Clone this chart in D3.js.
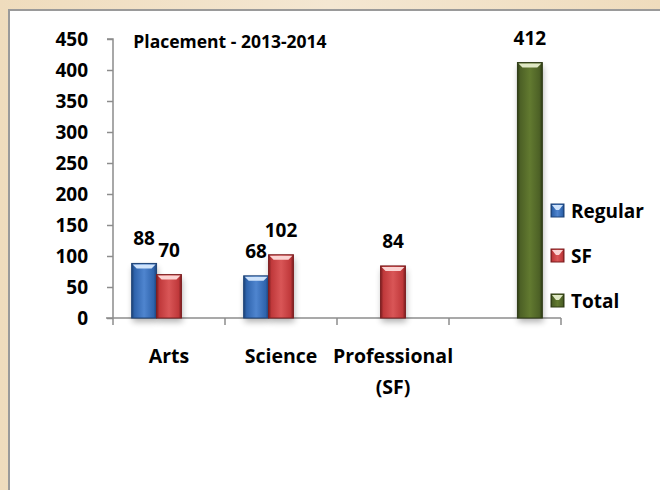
<!DOCTYPE html>
<html><head><meta charset="utf-8">
<script src="https://cdn.jsdelivr.net/npm/d3@7"></script>
<style>
html,body{margin:0;padding:0;background:#fff;}
svg{display:block;}
text{font-family:"Open Sans",Lato,sans-serif;font-weight:bold;fill:#000;}
</style></head>
<body>
<svg id="c" width="660" height="490"></svg>
<script>
const title = "Placement - 2013-2014";
const categories = ["Arts", "Science", "Professional (SF)", ""];
const seriesNames = ["Regular", "SF", "Total"];
const regular = [88, 68, null, null];
const sf = [70, 102, 84, null];
const total = [null, null, null, 412];
const yTicks = [0, 50, 100, 150, 200, 250, 300, 350, 400, 450];

const seriesData = [regular, sf, total];
const colors = [
  {base:"#2f64ad", light:"#4f85cf", dark:"#1d4378", hi:"#cfe3fb"},
  {base:"#c0393b", light:"#d95657", dark:"#7d1f21", hi:"#fbd3d2"},
  {base:"#4d6126", light:"#627a30", dark:"#2e3b15", hi:"#dfe8c4"}
];
const FONT = '"Open Sans",Lato,sans-serif';

const svg = d3.select("#c");
const defs = svg.append("defs");

const bg = defs.append("linearGradient").attr("id","bgGrad").attr("x1","0").attr("x2","1").attr("y1","0").attr("y2","0");
bg.append("stop").attr("offset","0").attr("stop-color","#efdcbd");
bg.append("stop").attr("offset","0.5").attr("stop-color","#f4e7d2");
bg.append("stop").attr("offset","1").attr("stop-color","#efdcbd");
svg.append("rect").attr("width",660).attr("height",490).attr("fill","url(#bgGrad)");
svg.append("rect").attr("x",9).attr("y",10).attr("width",660).attr("height",490)
  .attr("fill","#fff").attr("stroke","#9a9a9a").attr("stroke-width",2);

colors.forEach((c,i)=>{
  const g = defs.append("linearGradient").attr("id","bar"+i).attr("x1","0").attr("x2","1").attr("y1","0").attr("y2","0");
  g.append("stop").attr("offset","0").attr("stop-color",c.dark);
  g.append("stop").attr("offset","0.12").attr("stop-color",c.base);
  g.append("stop").attr("offset","0.5").attr("stop-color",c.light);
  g.append("stop").attr("offset","0.88").attr("stop-color",c.base);
  g.append("stop").attr("offset","1").attr("stop-color",c.dark);
});
const sh = defs.append("filter").attr("id","shadow").attr("x","-0.5").attr("y","-0.5").attr("width","2").attr("height","2");
sh.append("feGaussianBlur").attr("stdDeviation",3);

const x0 = d3.scaleBand().domain(categories).range([113,561]).paddingInner(0).paddingOuter(0);
const x1 = d3.scaleBand().domain(seriesNames).range([0, x0.bandwidth()]).paddingInner(0).paddingOuter(0.75);
const y = d3.scaleLinear().domain([0,450]).range([318,39]);

const yAxis = svg.append("g").attr("transform","translate(113,0)")
  .call(d3.axisLeft(y).tickValues(yTicks).tickSize(6).tickPadding(19));
yAxis.select(".domain").attr("stroke","#8c8c8c").attr("stroke-width",1.5).attr("d","M-6,39H0V318");
yAxis.selectAll(".tick line").attr("stroke","#8c8c8c").attr("stroke-width",1.5);
yAxis.selectAll(".tick text").style("font-size","19px").style("font-family",FONT).style("font-weight","bold").attr("fill","#000");

const xg = svg.append("g");
xg.append("line").attr("x1",106).attr("x2",561).attr("y1",318).attr("y2",318).attr("stroke","#8c8c8c").attr("stroke-width",1.5);
const bounds = categories.map(c=>x0(c)).concat([x0.range()[1]]);
xg.selectAll("line.t").data(bounds).join("line").attr("class","t")
  .attr("x1",d=>d).attr("x2",d=>d).attr("y1",318).attr("y2",325).attr("stroke","#8c8c8c").attr("stroke-width",1.5);

categories.forEach(c=>{
  if(!c) return;
  const parts = c === "Professional (SF)" ? ["Professional","(SF)"] : [c];
  const cx = x0(c)+x0.bandwidth()/2;
  const t = svg.append("text").attr("x", cx).attr("y",363)
    .attr("text-anchor","middle").style("font-size","19.5px");
  parts.forEach((p,i)=>t.append("tspan").attr("x",cx).attr("dy", i?31:0).text(p));
});

const bars = [];
categories.forEach((c,ci)=>{
  seriesData.forEach((s,si)=>{
    if(s[ci]!=null) bars.push({c, si, v:s[ci], name:seriesNames[si]});
  });
});
const bx = d=>x0(d.c)+x1(d.name);
const bw = x1.bandwidth();
svg.append("g").selectAll("rect").data(bars).join("rect")
  .attr("x",d=>bx(d)+1).attr("y",d=>y(d.v)+4).attr("width",bw).attr("height",d=>318-y(d.v))
  .attr("fill","#000").attr("opacity",0.3).attr("filter","url(#shadow)");
const bg2 = svg.append("g");
bg2.selectAll("rect").data(bars).join("rect")
  .attr("x",bx).attr("y",d=>y(d.v)).attr("width",bw).attr("height",d=>318-y(d.v))
  .attr("fill",d=>`url(#bar${d.si})`).attr("stroke",d=>colors[d.si].dark).attr("stroke-width",1);
bg2.selectAll("path").data(bars).join("path")
  .attr("d",d=>{const X=bx(d), Y=y(d.v); return `M${X+1},${Y+1}H${X+bw-1}L${X+bw-5},${Y+5}H${X+5}Z`;})
  .attr("fill",d=>colors[d.si].hi);

svg.append("g").selectAll("text").data(bars).join("text")
  .attr("x",d=>bx(d)+bw/2).attr("y",d=>y(d.v)-18)
  .attr("text-anchor","middle").style("font-size","19px").text(d=>d.v);

svg.append("text").attr("x",230).attr("y",48).attr("text-anchor","middle").style("font-size","17.5px").text(title);

const lg = svg.append("g");
seriesNames.forEach((n,i)=>{
  const yy = 211 + i*45;
  lg.append("rect").attr("x",551).attr("y",yy-7).attr("width",13).attr("height",13)
    .attr("fill",`url(#bar${i})`).attr("stroke",colors[i].dark);
  lg.append("path").attr("d",`M552,${yy-6}H563L559,${yy-1}H556Z`).attr("fill",colors[i].hi);
  lg.append("text").attr("x",571).attr("y",yy+7).style("font-size","19px").text(n);
});
</script>
</body></html>
